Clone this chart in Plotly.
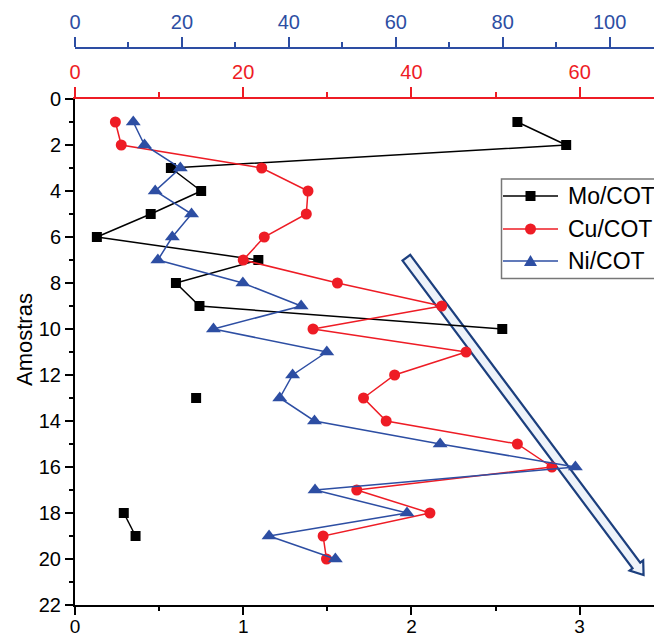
import math
import plotly.graph_objects as go

# Sample numbers (depth order) and metal / COT ratios
samples = list(range(1, 21))
mo_cot = [2.63, 2.92, 0.57, 0.75, 0.45, 0.13, 1.09, 0.60, 0.74, 2.54,
          None, None, 0.72, None, None, None, None, 0.29, 0.36, None]
cu_cot = [4.8, 5.5, 22.2, 27.7, 27.5, 22.5, 20.0, 31.2, 43.6, 28.3,
          46.5, 38.0, 34.3, 37.0, 52.6, 56.7, 33.5, 42.2, 29.5, 29.9]
ni_cot = [10.9, 13.0, 19.7, 15.0, 21.8, 18.2, 15.5, 31.4, 42.3, 25.9,
          47.1, 40.7, 38.3, 44.8, 68.3, 93.6, 44.9, 62.1, 36.3, 48.7]
series_names = ["Mo/COT", "Cu/COT", "Ni/COT"]

BLACK = "#000000"
RED = "#ee1c25"
BLUE = "#2d4ea3"
FONT = "Arial, Liberation Sans, sans-serif"

# Page geometry
W, H = 654, 638
M_L, M_R, M_T, M_B = 75, 0, 48, 33
PW, PH = W - M_L - M_R, H - M_T - M_B
MAIN_TOP = 99                      # top of the sample axis (red axis line)
Y_TOP_FRAC = (H - M_B - MAIN_TOP) / PH
MAIN_H = H - M_B - MAIN_TOP

MO_MAX = 3.442
CU_MAX = MO_MAX * 20.0
NI_MAX = PW / 5.346
Y_MAX = 22


def to_px(x, y):
    return M_L + x / MO_MAX * PW, MAIN_TOP + y / Y_MAX * MAIN_H


def paper(px, py):
    return (px - M_L) / PW, (H - M_B - py) / PH


fig = go.Figure()

fig.add_trace(go.Scatter(
    x=mo_cot, y=samples, name=series_names[0], mode="lines+markers",
    line=dict(color=BLACK, width=1.5), connectgaps=False,
    marker=dict(symbol="square", size=10, color=BLACK),
    xaxis="x", yaxis="y", showlegend=False))
fig.add_trace(go.Scatter(
    x=cu_cot, y=samples, name=series_names[1], mode="lines+markers",
    line=dict(color=RED, width=1.5),
    marker=dict(symbol="circle", size=11, color=RED),
    xaxis="x2", yaxis="y", showlegend=False))
fig.add_trace(go.Scatter(
    x=ni_cot, y=samples, name=series_names[2], mode="lines+markers",
    line=dict(color=BLUE, width=1.5),
    marker=dict(symbol="triangle-up", size=13, color=BLUE),
    xaxis="x3", yaxis="y", showlegend=False))

shapes = []

# Hollow trend arrow
ARROW_FROM = (1.97, 6.9)
ARROW_TO = (3.38, 20.7)
sx, sy = to_px(*ARROW_FROM)
tx, ty = to_px(*ARROW_TO)
L = math.hypot(tx - sx, ty - sy)
ux, uy = (tx - sx) / L, (ty - sy) / L
nx, ny = -uy, ux
shaft, head, head_len = 4.8, 8.5, 12
bx, by = tx - head_len * ux, ty - head_len * uy
pts = [
    (sx + shaft * nx, sy + shaft * ny),
    (bx + shaft * nx, by + shaft * ny),
    (bx + head * nx, by + head * ny),
    (tx, ty),
    (bx - head * nx, by - head * ny),
    (bx - shaft * nx, by - shaft * ny),
    (sx - shaft * nx, sy - shaft * ny),
]
path = "M " + " L ".join("%.5f,%.5f" % paper(px, py) for px, py in pts) + " Z"
shapes.append(dict(type="path", path=path, xref="paper", yref="paper",
                   line=dict(color="#1c3f7e", width=2.2), fillcolor="#eef3fa",
                   layer="below"))

# Legend box
lx0, ly0 = paper(501.5, 179)
lx1, ly1 = paper(700, 278.5)
shapes.append(dict(type="rect", xref="paper", yref="paper",
                   x0=lx0, x1=lx1, y0=ly1, y1=ly0,
                   line=dict(color="#777777", width=1.5), fillcolor="white"))

annotations = []
legend_rows = [196, 229, 261]
legend_colors = [BLACK, RED, BLUE]
for name, color, row in zip(series_names, legend_colors, legend_rows):
    ax0, ay = paper(503, row)
    ax1, _ = paper(558, row)
    shapes.append(dict(type="line", xref="paper", yref="paper",
                       x0=ax0, x1=ax1, y0=ay, y1=ay,
                       line=dict(color=color, width=1.5)))
    annotations.append(dict(text=name, xref="paper", yref="paper",
                            x=paper(566, row)[0], y=ay, xanchor="left",
                            yanchor="middle", showarrow=False,
                            font=dict(family=FONT, size=23, color="black")))

mx = 530.5
# square
a0, b0 = paper(mx - 5, legend_rows[0] - 5)
a1, b1 = paper(mx + 5, legend_rows[0] + 5)
shapes.append(dict(type="rect", xref="paper", yref="paper", x0=a0, x1=a1,
                   y0=b1, y1=b0, line=dict(width=0), fillcolor=BLACK))
# circle
a0, b0 = paper(mx - 5.5, legend_rows[1] - 5.5)
a1, b1 = paper(mx + 5.5, legend_rows[1] + 5.5)
shapes.append(dict(type="circle", xref="paper", yref="paper", x0=a0, x1=a1,
                   y0=b1, y1=b0, line=dict(width=0), fillcolor=RED))
# triangle
tri = [(mx - 6.5, legend_rows[2] + 5), (mx + 6.5, legend_rows[2] + 5),
       (mx, legend_rows[2] - 6)]
tpath = "M " + " L ".join("%.5f,%.5f" % paper(px, py) for px, py in tri) + " Z"
shapes.append(dict(type="path", path=tpath, xref="paper", yref="paper",
                   line=dict(width=0), fillcolor=BLUE))

# Y axis title
annotations.append(dict(text="Amostras", xref="paper", yref="paper",
                        x=paper(24, 340)[0], y=paper(24, 340)[1],
                        textangle=-90, showarrow=False, xanchor="center",
                        yanchor="middle",
                        font=dict(family=FONT, size=22, color="black")))

tick_font = dict(family=FONT, size=20)

fig.update_layout(
    width=W, height=H,
    margin=dict(l=M_L, r=M_R, t=M_T, b=M_B, pad=0, autoexpand=False),
    paper_bgcolor="white", plot_bgcolor="white",
    showlegend=False,
    font=dict(family=FONT),
    shapes=shapes, annotations=annotations,
    xaxis=dict(range=[0, MO_MAX], dtick=1, tick0=0, showgrid=False,
               zeroline=False, showline=True, linecolor=BLACK, linewidth=2,
               ticks="outside", ticklen=8, tickwidth=1.5, tickcolor=BLACK,
               tickfont=dict(color=BLACK, family=FONT, size=19),
               ticklabelstandoff=-5, automargin=False,
               minor=dict(dtick=0.5, ticks="outside", ticklen=4,
                          tickcolor=BLACK, tickwidth=1.5, showgrid=False),
               anchor="y"),
    xaxis2=dict(range=[0, CU_MAX], dtick=20, tick0=0, overlaying="x",
                side="top", anchor="y", showgrid=False, zeroline=False,
                showline=True, linecolor=RED, linewidth=2, automargin=False,
                ticks="outside", ticklen=10, tickwidth=1.5, tickcolor=RED,
                tickfont=dict(color=RED, **tick_font),
                minor=dict(dtick=10, ticks="outside", ticklen=5,
                           tickcolor=RED, tickwidth=1.5, showgrid=False)),
    xaxis3=dict(range=[0, NI_MAX], dtick=20, tick0=0, overlaying="x",
                side="top", anchor="free", position=1, showgrid=False,
                zeroline=False, showline=True, linecolor=BLUE, linewidth=2,
                ticks="outside", ticklen=10, tickwidth=1.5, tickcolor=BLUE,
                tickfont=dict(color=BLUE, **tick_font), automargin=False,
                minor=dict(dtick=10, ticks="outside", ticklen=5,
                           tickcolor=BLUE, tickwidth=1.5, showgrid=False)),
    yaxis=dict(range=[Y_MAX, 0], domain=[0, Y_TOP_FRAC], dtick=2, tick0=0,
               showgrid=False, zeroline=False, showline=True,
               linecolor=BLACK, linewidth=2, ticks="outside", ticklen=8,
               tickwidth=1.5, tickcolor=BLACK, automargin=False,
               tickfont=dict(color=BLACK, **tick_font),
               minor=dict(dtick=1, ticks="outside", ticklen=4,
                          tickcolor=BLACK, tickwidth=1.5, showgrid=False),
               anchor="x"),
)

fig.write_html("out.html")
